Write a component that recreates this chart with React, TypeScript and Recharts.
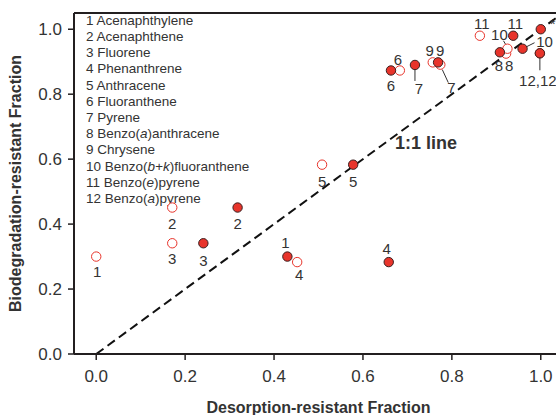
import { ScatterChart, Scatter, XAxis, YAxis, ReferenceLine } from "recharts"

// compound names, italic parts wrapped in underscores
const compounds = [
  "Acenaphthylene",
  "Acenaphthene",
  "Fluorene",
  "Phenanthrene",
  "Anthracene",
  "Fluoranthene",
  "Pyrene",
  "Benzo(_a_)anthracene",
  "Chrysene",
  "Benzo(_b+k_)fluoranthene",
  "Benzo(_e_)pyrene",
  "Benzo(_a_)pyrene",
]

// filled markers
const filledLabels = ["1", "2", "3", "4", "5", "6", "7", "8", "9", "10", "11", "12,12", "*"]
const filledDesorption = [0.43, 0.318, 0.241, 0.658, 0.578, 0.663, 0.717, 0.908, 0.769, 0.959, 0.938, 0.998, 1.0]
const filledBiodeg = [0.3, 0.451, 0.341, 0.283, 0.583, 0.873, 0.89, 0.929, 0.898, 0.94, 0.98, 0.926, 1.0]

// open markers
const openLabels = ["1", "2", "3", "4", "5", "6", "7", "8", "9", "10", "11", ""]
const openDesorption = [0.0, 0.171, 0.171, 0.452, 0.508, 0.683, 0.774, 0.922, 0.757, 0.925, 0.863, 0.998]
const openBiodeg = [0.3, 0.451, 0.341, 0.283, 0.583, 0.873, 0.891, 0.925, 0.898, 0.94, 0.98, 0.926]

const xTicks = [0, 0.2, 0.4, 0.6, 0.8, 1.0]
const yTicks = [0, 0.2, 0.4, 0.6, 0.8, 1.0]

const RED = "#e8342b"
const INK = "#231f20"
const TXT = "#333333"
const FONT = "'Liberation Sans', Arial, sans-serif"

// label offsets (px) from the marker centre, optional leader line [x1, y1, x2, y2]
type Place = { dx: number; dy: number; lead?: [number, number, number, number] }
const labelPlace: Record<string, Place> = {
  f0: { dx: -2, dy: -14 },
  f1: { dx: 0, dy: 16 },
  f2: { dx: 0, dy: 17 },
  f3: { dx: -2, dy: -14 },
  f4: { dx: 0, dy: 17 },
  f5: { dx: 0, dy: 15 },
  f6: { dx: 4, dy: 24, lead: [0, 4, 0, 16] },
  f7: { dx: -1, dy: 13 },
  f8: { dx: 2, dy: -12 },
  f9: { dx: 22, dy: -7, lead: [0, 0, 12, -6] },
  f10: { dx: 2, dy: -12 },
  f11: { dx: -2, dy: 27, lead: [0, 0, 0, 17] },
  f12: { dx: 12, dy: -6 },
  o0: { dx: 1, dy: 15 },
  o1: { dx: 0, dy: 16 },
  o2: { dx: 0, dy: 15 },
  o3: { dx: 2, dy: 12 },
  o4: { dx: 0, dy: 17 },
  o5: { dx: -2, dy: -11 },
  o6: { dx: 11, dy: 23, lead: [2, 5, 8, 18] },
  o7: { dx: 3, dy: 12 },
  o8: { dx: -3, dy: -12 },
  o9: { dx: -8, dy: -14, lead: [-4, -8, -1, -3] },
  o10: { dx: 2, dy: -12 },
  o11: { dx: 0, dy: 0 },
}

const filledData = filledDesorption.map((x, i) => ({ x, y: filledBiodeg[i], key: "f" + i, label: filledLabels[i] }))
const openData = openDesorption.map((x, i) => ({ x, y: openBiodeg[i], key: "o" + i, label: openLabels[i] }))

function makeMarker(filled: boolean) {
  return (props: any) => {
    const { cx, cy, payload } = props
    const p = labelPlace[payload.key]
    return (
      <g>
        {p.lead && (
          <line x1={cx + p.lead[0]} y1={cy + p.lead[1]} x2={cx + p.lead[2]} y2={cy + p.lead[3]} stroke={TXT} strokeWidth={1} />
        )}
        <circle
          cx={cx}
          cy={cy}
          r={4.7}
          fill={filled ? RED : "#fff"}
          stroke={filled ? "#3a2020" : RED}
          strokeWidth={1}
        />
        {payload.label && (
          <text
            x={cx + p.dx}
            y={cy + p.dy}
            textAnchor="middle"
            dominantBaseline="central"
            fontSize={15}
            fontFamily={FONT}
            fill={TXT}
          >
            {payload.label}
          </text>
        )}
      </g>
    )
  }
}

function CompoundList() {
  return (
    <g fontFamily={FONT} fontSize={13.5} fill={TXT}>
      {compounds.map((name, i) => (
        <text key={i} x={86} y={24.8 + i * 16.2}>
          {(i + 1 + " " + name).split("_").map((part, j) => (
            <tspan key={j} fontStyle={j % 2 ? "italic" : "normal"}>
              {part}
            </tspan>
          ))}
        </text>
      ))}
    </g>
  )
}

export default function App() {
  return (
    <div>
      <style>{"body{margin:0;overflow:hidden}"}</style>
      <ScatterChart width={570} height={415} margin={{ top: 13, right: 7, bottom: 0, left: 0 }}>
        <XAxis
          type="number"
          dataKey="x"
          domain={[-0.05, 1.05]}
          ticks={xTicks}
          tickFormatter={(v: number) => v.toFixed(1)}
          height={61}
          axisLine={{ stroke: INK, strokeWidth: 2 }}
          tickLine={{ stroke: INK, strokeWidth: 1.5 }}
          tickSize={6}
          tickMargin={10}
          tick={{ fill: TXT, fontSize: 17, fontFamily: FONT }}
          label={{
            value: "Desorption-resistant Fraction",
            position: "insideBottom",
            offset: 2.5,
            style: { fill: TXT, fontSize: 16, fontWeight: "bold", fontFamily: FONT },
          }}
        />
        <YAxis
          type="number"
          dataKey="y"
          domain={[0, 1.05]}
          ticks={yTicks}
          tickFormatter={(v: number) => v.toFixed(1)}
          width={74}
          axisLine={{ stroke: INK, strokeWidth: 2 }}
          tickLine={{ stroke: INK, strokeWidth: 1.5 }}
          tickSize={6}
          tickMargin={6}
          tick={{ fill: TXT, fontSize: 17, fontFamily: FONT }}
          label={{
            value: "Biodegradation-resistant Fraction",
            angle: -90,
            position: "insideLeft",
            offset: 15,
            style: { fill: TXT, fontSize: 16, fontWeight: "bold", fontFamily: FONT, textAnchor: "middle" },
          }}
        />
        <ReferenceLine y={1.05} stroke={INK} strokeWidth={2} />
        <ReferenceLine x={1.05} stroke={INK} strokeWidth={2} />
        <ReferenceLine
          segment={[{ x: 0, y: 0 }, { x: 1.05, y: 1.05 }]}
          stroke="#111"
          strokeWidth={2}
          strokeDasharray="9 5"
        />
        <Scatter data={openData} shape={makeMarker(false)} isAnimationActive={false} />
        <Scatter data={filledData} shape={makeMarker(true)} isAnimationActive={false} />
        <CompoundList />
        <text x={426} y={143} textAnchor="middle" dominantBaseline="central" fontSize={18} fontWeight="bold" fontFamily={FONT} fill={TXT}>
          1:1 line
        </text>
      </ScatterChart>
    </div>
  )
}
